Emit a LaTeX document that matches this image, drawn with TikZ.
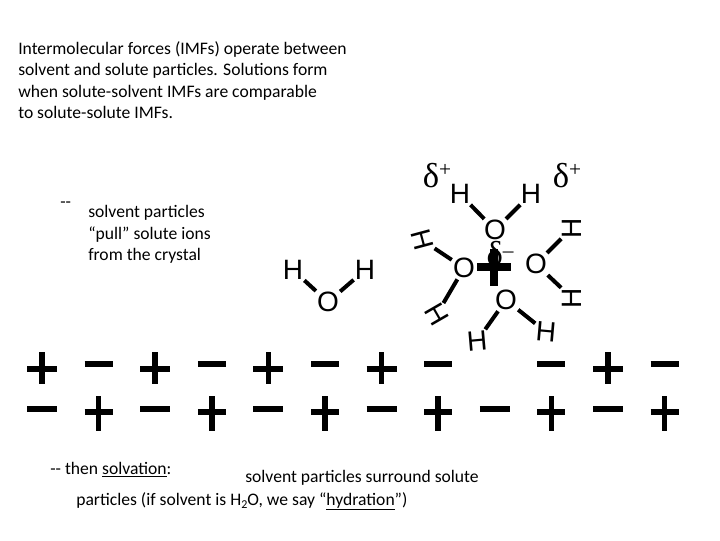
\documentclass[tikz,border=0pt]{standalone}
\usepackage{fontspec}
\setmainfont{Carlito}
\newfontfamily\atomfont{Liberation Sans}
\newfontfamily\dfont{Liberation Serif}
\begin{document}
\begin{tikzpicture}[x=0.75pt,y=-0.75pt,
  txt/.style={anchor=base west,inner sep=0,font=\fontsize{13.2}{16.2}\selectfont,align=left},
  atom/.style={inner sep=0,font=\atomfont\fontsize{21}{21}\selectfont},
  dl/.style={inner sep=0,font=\dfont\fontsize{26}{26}\selectfont},
  bond/.style={line width=3pt,shorten <=1pt,shorten >=1pt},
  ion/.style={line width=4.2pt}]
\useasboundingbox[fill=white] (0,0) rectangle (720,540);
\node[txt,anchor=north west] (intro) at (18,41) {Intermolecular forces (IMFs) operate between\\solvent and solute particles. Solutions form\\when solute-solvent IMFs are comparable\\to solute-solute IMFs.};
\node[txt] (dash) at (60,207) {-{}-};
\node[txt,anchor=north west] (pull) at (88,205) {solvent particles\\``pull'' solute ions\\from the crystal};
% lone water
\node[atom] (h1) at (293,270) {H};
\node[atom] (h2) at (365,270) {H};
\node[atom] (o1) at (328,302) {O};
\draw[bond] (h1) -- (o1); \draw[bond] (h2) -- (o1);
% central ion
\node[inner sep=0] (ion) at (494,267) {};
\draw[line width=5.5pt] (477,267) -- (511,267) (494,249) -- (494,286);
\node[dl] (dm) at (500,254) {δ\raisebox{0.5ex}{\fontsize{16}{16}\selectfont–}};
% top water
\node[atom] (th1) at (460,194) {H};
\node[atom] (th2) at (531,194) {H};
\node[atom] (to) at (495,230) {O};
\draw[bond] (th1) -- (to); \draw[bond] (th2) -- (to);
\node[dl] (dp1) at (437,176) {δ\raisebox{0.7ex}{\fontsize{16}{16}\selectfont+}};
\node[dl] (dp2) at (567,176) {δ\raisebox{0.7ex}{\fontsize{16}{16}\selectfont+}};
% left water
\node[atom] (lo) at (464,268) {O};
\node[atom,rotate=-75] (lh1) at (422,240) {H};
\node[atom,rotate=-60] (lh2) at (437,314) {H};
\draw[bond] (lh1) -- (lo); \draw[bond] (lh2) -- (lo);
% right water
\node[atom] (ro) at (536,264) {O};
\node[atom,rotate=90] (rh1) at (572,228) {H};
\node[atom,rotate=90] (rh2) at (572,298) {H};
\draw[bond] (rh1) -- (ro); \draw[bond] (rh2) -- (ro);
% bottom water
\node[atom] (bo) at (506,300) {O};
\node[atom,rotate=5] (bh1) at (477,341) {H};
\node[atom,rotate=-5] (bh2) at (546,332) {H};
\draw[bond] (bh1) -- (bo); \draw[bond] (bh2) -- (bo);
% crystal
\foreach \k in {0,...,11}{
  \pgfmathsetmacro\x{42+56.6*\k}
  \ifodd\k
    \draw[ion] (\x-14,364) -- (\x+14,364);
    \draw[ion] (\x-14,412) -- (\x+14,412) (\x,396) -- (\x,431);
  \else
    \ifnum\k=8\else
    \draw[ion] (\x-15,369) -- (\x+15,369) (\x,352) -- (\x,384);
    \fi
    \draw[ion] (\x-15,409) -- (\x+15,409);
  \fi
}
\node[txt] (then) at (50,474) {-{}- then \underline{solvation}:};
\node[txt] (surr) at (245,482) {solvent particles surround solute};
\node[txt] (hyd) at (76,505) {particles (if solvent is H\raisebox{-0.45ex}{\fontsize{9}{9}\selectfont 2}O, we say ``\underline{hydration}'')};
\end{tikzpicture}
\end{document}
